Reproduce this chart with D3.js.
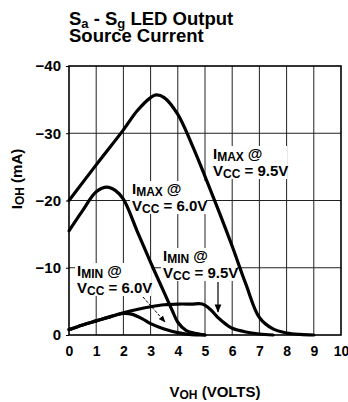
<!DOCTYPE html>
<html><head><meta charset="utf-8">
<script src="https://cdn.jsdelivr.net/npm/d3@7"></script>
<style>
body{margin:0;background:#fff;}
svg text{font-family:'Liberation Sans',Arial,sans-serif;font-weight:bold;fill:#000;}
</style></head><body>
<svg id="c" width="348" height="402"></svg>
<script>
// ---- data ----
const xTicks = [0,1,2,3,4,5,6,7,8,9,10];
const yTicks = [0,-10,-20,-30,-40];
const yTickLabels = ["0","\u221210","\u221220","\u221230","\u221240"];

// I_MAX @ Vcc = 9.5V  (Voh volts, Ioh mA)
const imax95V = [0,1,2,2.5,3,3.2,3.5,4,4.5,5,5.5,6,6.5,7,7.5,8,8.5,9];
const imax95I = [-20,-25.3,-30.5,-33.3,-35.3,-35.7,-35.3,-32.8,-28.5,-23.6,-18.5,-13.2,-7.6,-2.6,-0.9,-0.3,-0.08,0];
// I_MAX @ Vcc = 6.0V
const imax60V = [0,0.5,1,1.4,1.7,2,2.5,3,3.5,3.8,4,4.3,4.7,5];
const imax60I = [-15.5,-18.5,-21.3,-22,-21.5,-20.2,-15.5,-10.8,-6.3,-3.6,-1.9,-0.7,-0.2,0];
// I_MIN @ Vcc = 9.5V
const imin95V = [0,0.5,1,1.5,2,2.5,3,3.5,4,4.5,4.9,5.2,5.5,5.8,6,6.5,7,7.5];
const imin95I = [-0.8,-1.5,-2.1,-2.7,-3.3,-3.8,-4.2,-4.5,-4.6,-4.6,-4.6,-3.8,-2.5,-1.5,-1.0,-0.45,-0.15,0];
// I_MIN @ Vcc = 6.0V
const imin60V = [0,0.5,1,1.5,2,2.3,2.7,3,3.5,4,4.5,5];
const imin60I = [-0.8,-1.5,-2.1,-2.7,-3.2,-3.1,-2.4,-1.7,-0.9,-0.35,-0.05,0];

// ---- layout ----
const L=69,R=341,T=66,B=335;
const svg=d3.select("#c");
const x=d3.scaleLinear().domain([0,10]).range([L,R]);
const y=d3.scaleLinear().domain([0,-40]).range([B,T]);

// grid
const g=svg.append("g");
g.selectAll("line.v").data(xTicks.slice(1,-1)).enter().append("line")
 .attr("x1",d=>x(d)).attr("x2",d=>x(d)).attr("y1",T).attr("y2",B)
 .attr("stroke","#222").attr("stroke-width",1);
g.selectAll("line.h").data(yTicks.slice(1,-1)).enter().append("line")
 .attr("x1",L).attr("x2",R).attr("y1",d=>y(d)).attr("y2",d=>y(d))
 .attr("stroke","#222").attr("stroke-width",1);

// axes
const xa=svg.append("g").attr("transform",`translate(0,${B})`)
 .call(d3.axisBottom(x).tickValues(xTicks).tickSize(0).tickPadding(11).tickFormat(d3.format("d")));
xa.select(".domain").remove();
xa.selectAll("text").attr("font-size",14).attr("font-family",null);
const ya=svg.append("g").attr("transform",`translate(${L},0)`)
 .call(d3.axisLeft(y).tickValues(yTicks).tickSize(3).tickPadding(5).tickFormat((d,i)=>yTickLabels[i]));
ya.select(".domain").remove();
ya.selectAll("text").attr("font-size",15).attr("font-family",null);
ya.selectAll("line").attr("stroke","#000");

// frame
svg.append("rect").attr("x",L).attr("y",T).attr("width",R-L).attr("height",B-T)
 .attr("fill","none").attr("stroke","#000").attr("stroke-width",1.6);

// labels (backgrounds first)
const labels=[
 {sub:"MAX",v:"9.5V",x:213,y:159},
 {sub:"MAX",v:"6.0V",x:132,y:194},
 {sub:"MIN",v:"9.5V",x:163,y:261},
 {sub:"MIN",v:"6.0V",x:77,y:276}
];
function drawLabel(sel,d){
 const t1=sel.append("text").attr("x",d.x).attr("y",d.y).attr("font-size",15);
 t1.append("tspan").text("I");
 t1.append("tspan").attr("font-size",12).attr("dy",2).text(d.sub);
 t1.append("tspan").attr("dy",-2).attr("dx",4).text("@");
 const t2=sel.append("text").attr("x",d.x).attr("y",d.y+17).attr("font-size",15);
 t2.append("tspan").text("V");
 t2.append("tspan").attr("font-size",12).attr("dy",2).text("CC");
 t2.append("tspan").attr("dy",-2).text(" = "+d.v);
}
const lb=svg.append("g");
labels.forEach(d=>{
 lb.append("rect").attr("x",d.x-2).attr("y",d.y-13).attr("width",76).attr("height",33).attr("fill","#fff");
});

// curves
const line=d3.line().x(d=>x(d[0])).y(d=>y(d[1])).curve(d3.curveCatmullRom.alpha(0.5));
[[imax95V,imax95I],[imax60V,imax60I],[imin95V,imin95I],[imin60V,imin60I]].forEach(([vv,ii])=>{
 svg.append("path").datum(vv.map((v,k)=>[v,ii[k]])).attr("d",line)
  .attr("fill","none").attr("stroke","#000").attr("stroke-width",3.2).attr("stroke-linejoin","round").attr("stroke-linecap","round");
});

const tg=svg.append("g");
labels.forEach(d=>drawLabel(tg,d));

// arrows
svg.append("defs").append("marker").attr("id","ah").attr("viewBox","0 0 10 10").attr("refX",9).attr("refY",5)
 .attr("markerWidth",7).attr("markerHeight",7).attr("orient","auto")
 .append("path").attr("d","M0,1L10,5L0,9Z").attr("fill","#000");
svg.append("line").attr("x1",143).attr("y1",297).attr("x2",165).attr("y2",322)
 .attr("stroke","#000").attr("stroke-width",1).attr("stroke-dasharray","3,1.5").attr("marker-end","url(#ah)");
svg.append("line").attr("x1",218).attr("y1",282).attr("x2",218).attr("y2",312)
 .attr("stroke","#000").attr("stroke-width",1.2).attr("marker-end","url(#ah)");

// title
const tt=svg.append("text").attr("x",69).attr("y",25).attr("font-size",18.5);
tt.append("tspan").text("S");
tt.append("tspan").attr("font-size",13).attr("dy",3).text("a");
tt.append("tspan").attr("dy",-3).text(" - S");
tt.append("tspan").attr("font-size",13).attr("dy",3).text("g");
tt.append("tspan").attr("dy",-3).text(" LED Output");
svg.append("text").attr("x",69).attr("y",42).attr("font-size",18.5).text("Source Current");

// axis titles
const xt=svg.append("text").attr("x",215).attr("y",397).attr("text-anchor","middle").attr("font-size",15);
xt.append("tspan").text("V");
xt.append("tspan").attr("font-size",12).attr("dy",2).text("OH");
xt.append("tspan").attr("dy",-2).text(" (VOLTS)");
const yt=svg.append("text").attr("transform","translate(22,179) rotate(-90)").attr("text-anchor","middle").attr("font-size",15);
yt.append("tspan").text("I");
yt.append("tspan").attr("font-size",12).attr("dy",2).text("OH");
yt.append("tspan").attr("dy",-2).text(" (mA)");
</script>
</body></html>
